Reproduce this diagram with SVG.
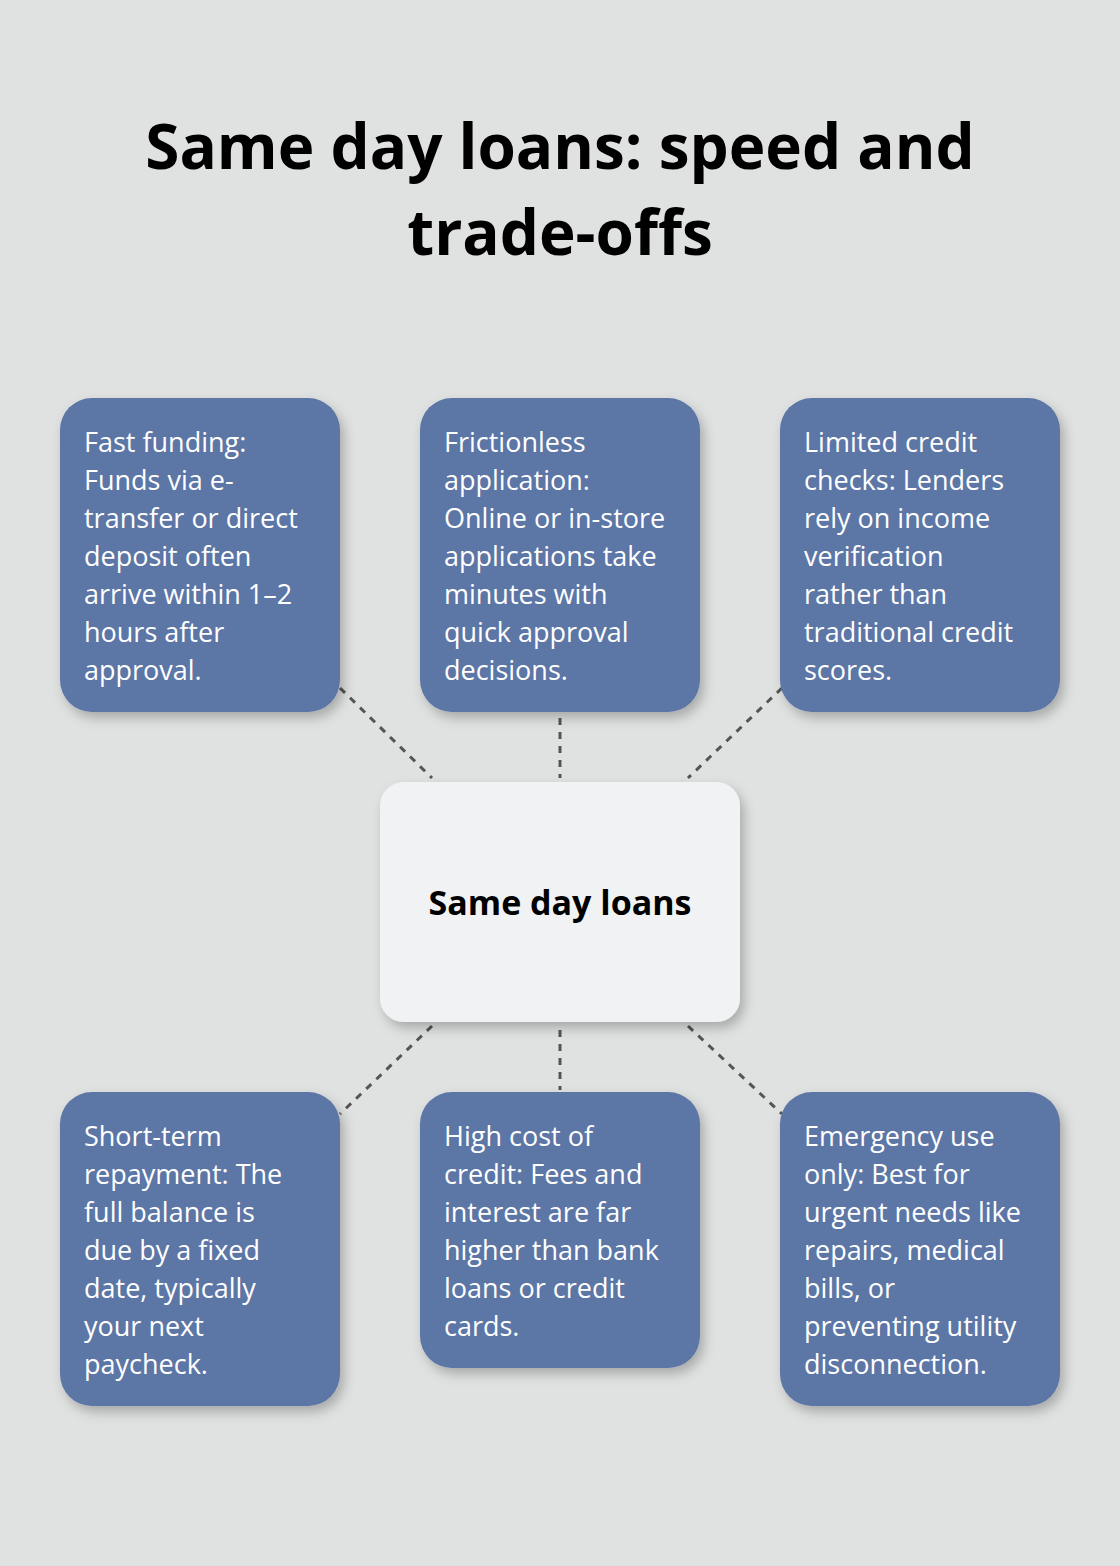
<svg xmlns="http://www.w3.org/2000/svg" width="1120" height="1566" viewBox="0 0 1120 1566">
<style>
.t{font-family:"Open Sans","Noto Sans",sans-serif;font-weight:bold;font-size:62px;fill:#000;text-anchor:middle}
.b{fill:#5b76a6}
.bt{font-family:"Open Sans","Noto Sans",sans-serif;font-size:27px;fill:#fff}
.c{stroke:#555;stroke-width:3;stroke-dasharray:7 7;fill:none}
</style>
<defs><filter id="s" x="-20%" y="-20%" width="140%" height="140%"><feDropShadow dx="4" dy="6" stdDeviation="6" flood-color="#000" flood-opacity="0.25"/></filter></defs>
<rect width="1120" height="1566" fill="#e0e2e1"/>
<text class="t" x="560" y="169">Same day loans: speed and</text>
<text class="t" x="560" y="255">trade-offs</text>
<g id="connectors">
<line class="c" x1="340" y1="688" x2="432" y2="778"/>
<line class="c" x1="560" y1="718" x2="560" y2="778"/>
<line class="c" x1="782" y1="688" x2="688" y2="778"/>
<line class="c" x1="432" y1="1026" x2="340" y2="1114"/>
<line class="c" x1="560" y1="1030" x2="560" y2="1090"/>
<line class="c" x1="688" y1="1026" x2="782" y2="1114"/>
</g>
<g id="center"><rect x="380" y="782" width="360" height="240" rx="24" fill="#f1f2f4" filter="url(#s)"/>
<text x="560" y="915" text-anchor="middle" font-family="Open Sans,Noto Sans,sans-serif" font-weight="bold" font-size="34">Same day loans</text></g>
<g id="n1"><rect class="b" x="60" y="398" width="280" height="314" rx="32" filter="url(#s)"/>
<text class="bt" x="84" y="452"><tspan x="84">Fast funding:</tspan><tspan x="84" dy="38">Funds via e-</tspan><tspan x="84" dy="38">transfer or direct</tspan><tspan x="84" dy="38">deposit often</tspan><tspan x="84" dy="38">arrive within 1–2</tspan><tspan x="84" dy="38">hours after</tspan><tspan x="84" dy="38">approval.</tspan></text></g>
<g id="n2"><rect class="b" x="420" y="398" width="280" height="314" rx="32" filter="url(#s)"/>
<text class="bt" x="444" y="452"><tspan x="444">Frictionless</tspan><tspan x="444" dy="38">application:</tspan><tspan x="444" dy="38">Online or in-store</tspan><tspan x="444" dy="38">applications take</tspan><tspan x="444" dy="38">minutes with</tspan><tspan x="444" dy="38">quick approval</tspan><tspan x="444" dy="38">decisions.</tspan></text></g>
<g id="n3"><rect class="b" x="780" y="398" width="280" height="314" rx="32" filter="url(#s)"/>
<text class="bt" x="804" y="452"><tspan x="804">Limited credit</tspan><tspan x="804" dy="38">checks: Lenders</tspan><tspan x="804" dy="38">rely on income</tspan><tspan x="804" dy="38">verification</tspan><tspan x="804" dy="38">rather than</tspan><tspan x="804" dy="38">traditional credit</tspan><tspan x="804" dy="38">scores.</tspan></text></g>
<g id="n4"><rect class="b" x="60" y="1092" width="280" height="314" rx="32" filter="url(#s)"/>
<text class="bt" x="84" y="1146"><tspan x="84">Short-term</tspan><tspan x="84" dy="38">repayment: The</tspan><tspan x="84" dy="38">full balance is</tspan><tspan x="84" dy="38">due by a fixed</tspan><tspan x="84" dy="38">date, typically</tspan><tspan x="84" dy="38">your next</tspan><tspan x="84" dy="38">paycheck.</tspan></text></g>
<g id="n5"><rect class="b" x="420" y="1092" width="280" height="276" rx="32" filter="url(#s)"/>
<text class="bt" x="444" y="1146"><tspan x="444">High cost of</tspan><tspan x="444" dy="38">credit: Fees and</tspan><tspan x="444" dy="38">interest are far</tspan><tspan x="444" dy="38">higher than bank</tspan><tspan x="444" dy="38">loans or credit</tspan><tspan x="444" dy="38">cards.</tspan></text></g>
<g id="n6"><rect class="b" x="780" y="1092" width="280" height="314" rx="32" filter="url(#s)"/>
<text class="bt" x="804" y="1146"><tspan x="804">Emergency use</tspan><tspan x="804" dy="38">only: Best for</tspan><tspan x="804" dy="38">urgent needs like</tspan><tspan x="804" dy="38">repairs, medical</tspan><tspan x="804" dy="38">bills, or</tspan><tspan x="804" dy="38">preventing utility</tspan><tspan x="804" dy="38">disconnection.</tspan></text></g>
</svg>
